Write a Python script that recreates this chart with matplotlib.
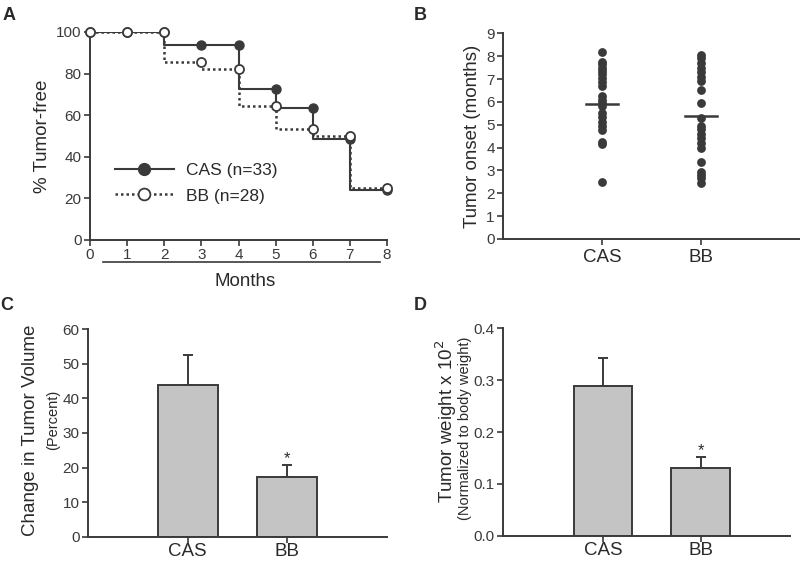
import matplotlib
matplotlib.use("Agg")
import matplotlib.pyplot as plt
from matplotlib.lines import Line2D
import numpy as np

plt.rcParams['font.family'] = ['Liberation Sans', 'DejaVu Sans']

# ---------------- data ----------------
months = [0, 1, 2, 3, 4, 5, 6, 7, 8]
cas_surv = [100, 100, 93.9, 93.9, 72.7, 63.6, 48.5, 24.2, 24.2]   # after drop at each month
bb_surv = [100, 100, 85.7, 82.1, 64.3, 53.6, 50.0, 25.0, 25.0]
cas_marks = [100, 100, 100, 93.9, 93.9, 72.7, 63.6, 48.5, 24.2]  # before drop at each month
bb_marks = [100, 100, 100, 85.7, 82.1, 64.3, 53.6, 50.0, 25.0]

groups = ['CAS', 'BB']
onset_cas = [8.2, 7.75, 7.65, 7.5, 7.35, 7.2, 7.05, 6.85, 6.7, 6.25, 6.1, 5.95,
             5.8, 5.5, 5.35, 5.1, 4.95, 4.75, 4.25, 4.15, 2.5]
onset_bb = [8.05, 7.9, 7.7, 7.5, 7.3, 7.1, 6.9, 6.5, 5.95, 5.3, 4.95, 4.8, 4.6,
            4.4, 4.2, 4.0, 3.35, 2.95, 2.8, 2.65, 2.45]
onset_mean = [5.9, 5.37]

vol_mean = [44.0, 17.4]
vol_err = [8.6, 3.3]
wt_mean = [0.289, 0.131]
wt_err = [0.053, 0.020]

# ---------------- style ----------------
DK = '#3a3a3a'
TXT = '#2a2a2a'
BAR = '#c4c4c4'
W, H = 800, 561

fig = plt.figure(figsize=(8, 5.61), dpi=100)


def axes_px(left, top, right, bottom):
    return fig.add_axes([left / W, 1 - bottom / H, (right - left) / W, (bottom - top) / H])


def style(ax):
    for s in ['top', 'right']:
        ax.spines[s].set_visible(False)
    for s in ['left', 'bottom']:
        ax.spines[s].set_color(DK)
        ax.spines[s].set_linewidth(1.4)
    ax.tick_params(colors=DK, width=1.2, length=4, labelsize=11, labelcolor='#3a3a3a', pad=2)
    ax.set_facecolor('none')


# ---------------- Panel A ----------------
axA = axes_px(90, 32, 387, 240)
style(axA)
axA.step(months, cas_surv, where='post', color=DK, lw=1.5, zorder=2)
axA.step(months, bb_surv, where='post', color=DK, lw=1.8, ls=(0, (1, 1.2)), zorder=3)
axA.plot(months, cas_marks, 'o', color=DK, ms=6.5, zorder=4, clip_on=False)
axA.plot(months, bb_marks, 'o', mfc='white', mec=DK, mew=1.3, ms=6.5, zorder=5, clip_on=False)
axA.set_xlim(0, 8)
axA.set_ylim(0, 100)
axA.set_xticks(months)
axA.set_yticks([0, 20, 40, 60, 80, 100])
axA.set_ylabel('% Tumor-free', fontsize=13.5, color=TXT, labelpad=4)
h1 = Line2D([], [], color=DK, lw=1.5, marker='o', ms=8.5, mfc=DK, mec=DK)
h2 = Line2D([], [], color=DK, lw=1.8, ls=(0, (1, 1.2)), marker='o', ms=8.5, mfc='white', mec=DK, mew=1.3)
leg = axA.legend([h1, h2], ['CAS (n=33)', 'BB (n=28)'], loc='lower left',
                 bbox_to_anchor=(0.03, 0.1), frameon=False, fontsize=12.5,
                 handlelength=3.4, handletextpad=0.7, labelspacing=0.6, numpoints=1)
for t in leg.get_texts():
    t.set_color(TXT)
fig.add_artist(Line2D([103 / W, 380 / W], [1 - 262 / H, 1 - 262 / H], color=DK, lw=1.2))
fig.text(245 / W, 1 - 282 / H, 'Months', ha='center', va='center', fontsize=13.5, color=TXT)
fig.text(3 / W, 1 - 16 / H, 'A', fontsize=13, fontweight='bold', color=TXT, va='center')

# ---------------- Panel B ----------------
axB = axes_px(503, 33.3, 800, 239)
style(axB)
xpos = [1, 2]
for x, vals in zip(xpos, [onset_cas, onset_bb]):
    axB.scatter([x] * len(vals), vals, s=40, color=DK, zorder=3, linewidths=0)
for x, m in zip(xpos, onset_mean):
    axB.plot([x - 0.16, x + 0.16], [m, m], color=DK, lw=1.8, zorder=4)
axB.set_xlim(0, 3)
axB.set_ylim(0, 9)
axB.set_yticks(range(10))
axB.set_xticks(xpos)
axB.set_xticklabels(groups, fontsize=13.5, color=TXT)
axB.tick_params(axis='x', labelsize=13.5, pad=3)
axB.set_ylabel('Tumor onset (months)', fontsize=13.5, color=TXT, labelpad=4)
fig.text(414 / W, 1 - 16 / H, 'B', fontsize=13, fontweight='bold', color=TXT, va='center')


# ---------------- Panel C ----------------
def bar_panel(ax, means, errs, ylim, yticks, ytl):
    style(ax)
    ax.bar(xpos, means, width=0.6, color=BAR, edgecolor=DK, lw=1.4, zorder=2)
    ax.errorbar(xpos, means, yerr=[[0, 0], errs], fmt='none', ecolor=DK,
                elinewidth=1.4, capsize=3.5, capthick=1.4, zorder=1)
    ax.set_ylim(*ylim)
    ax.set_yticks(yticks)
    ax.set_yticklabels(ytl)
    ax.set_xticks(xpos)
    ax.set_xticklabels(groups, fontsize=13.5, color=TXT)
    ax.tick_params(axis='x', labelsize=13.5, pad=0.5)


axC = axes_px(88, 329.3, 387, 536.7)
bar_panel(axC, vol_mean, vol_err, (0, 60), [0, 10, 20, 30, 40, 50, 60],
          ['0', '10', '20', '30', '40', '50', '60'])
axC.set_xlim(0, 3)
axC.text(2, vol_mean[1] + vol_err[1] + 2.0, '*', ha='center', va='center', fontsize=12, color=TXT)
fig.text(31 / W, 1 - 430 / H, 'Change in Tumor Volume', rotation=90, ha='center', va='center',
         fontsize=13.5, color=TXT)
fig.text(53 / W, 1 - 420 / H, '(Percent)', rotation=90, ha='center', va='center',
         fontsize=10.5, color=TXT)
fig.text(0 / W, 1 - 305 / H, 'C', fontsize=13, fontweight='bold', color=TXT, va='center')

# ---------------- Panel D ----------------
axD = axes_px(503, 328.3, 790, 535.7)
bar_panel(axD, wt_mean, wt_err, (0, 0.4), [0, 0.1, 0.2, 0.3, 0.4],
          ['0.0', '0.1', '0.2', '0.3', '0.4'])
axD.set_xlim(-0.02, 2.91)
axD.text(2, wt_mean[1] + wt_err[1] + 0.014, '*', ha='center', va='center', fontsize=12, color=TXT)
fig.text(446 / W, 1 - 421 / H, 'Tumor weight x 10$^{2}$', rotation=90, ha='center', va='center',
         fontsize=13.5, color=TXT)
fig.text(465 / W, 1 - 428 / H, '(Normalized to body weight)', rotation=90, ha='center', va='center',
         fontsize=10.5, color=TXT)
fig.text(414 / W, 1 - 305 / H, 'D', fontsize=13, fontweight='bold', color=TXT, va='center')

fig.savefig('out.png', dpi=100)
